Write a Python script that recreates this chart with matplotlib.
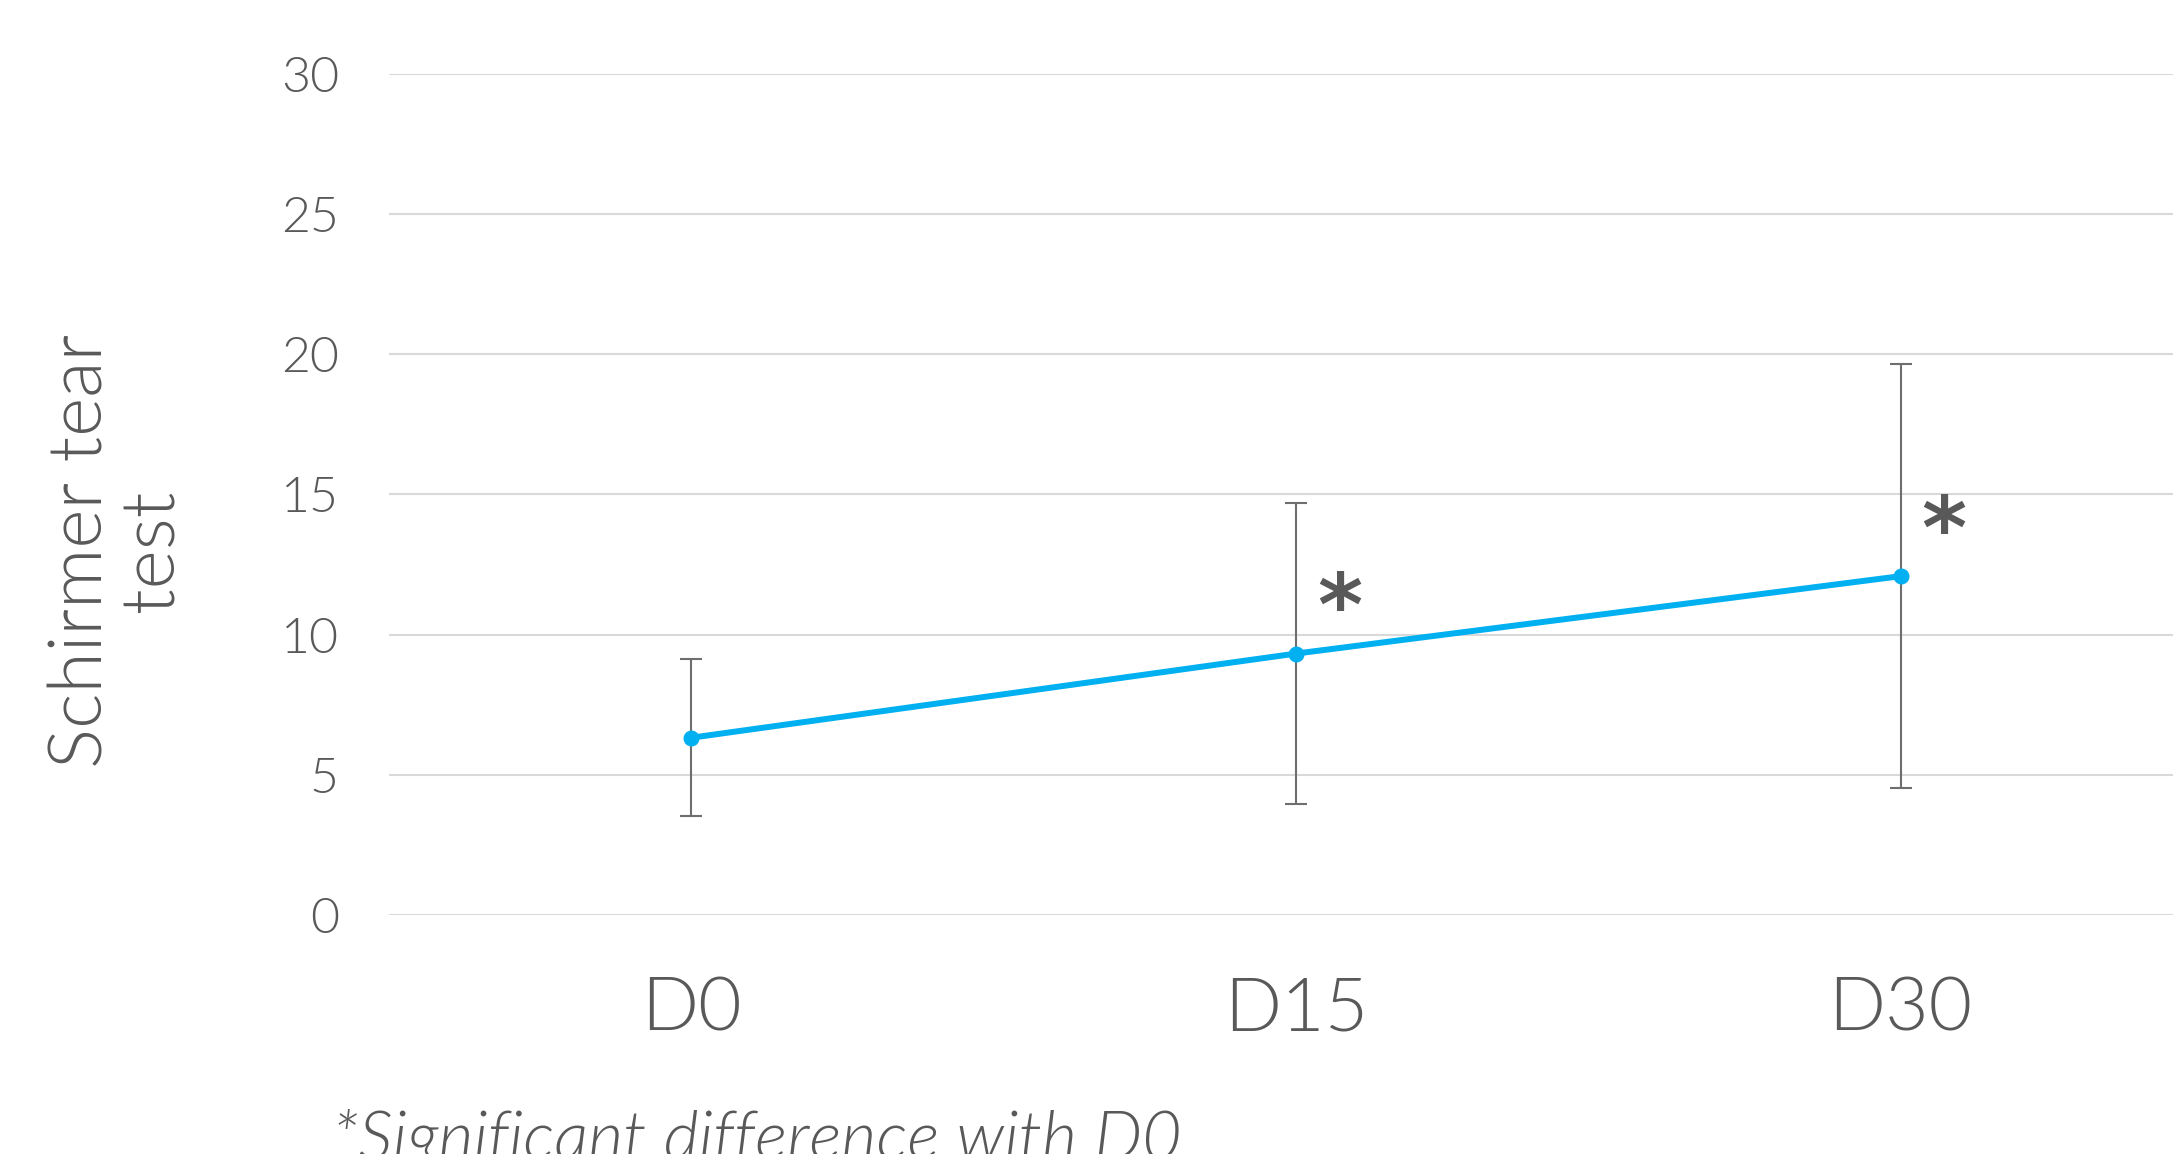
import numpy as np
import matplotlib.pyplot as plt

days = ['D0', 'D15', 'D30']
schirmer_mean = [6.32, 9.32, 12.08]
schirmer_sd = [2.8, 5.37, 7.55]
significant = [False, True, True]
y_ticks = [0, 5, 10, 15, 20, 25, 30]

grey = '#595959'
cyan = '#00B0F0'

fig = plt.figure(figsize=(21.73, 11.54), dpi=100)
ax = fig.add_axes([0.179, 0.2071, 0.8348, 0.7292])

x = np.arange(len(days))
ax.errorbar(x, schirmer_mean, yerr=schirmer_sd, fmt='none', ecolor='#6e6e6e',
            elinewidth=1.5, capsize=8, capthick=1.5, zorder=2)
ax.plot(x, schirmer_mean, color=cyan, lw=4.3, marker='o', ms=10.5, zorder=3)

# asterisks next to the points that differ from D0
for xi, m, s in zip(x, schirmer_mean, significant):
    if s:
        ax.text(xi + 0.072, m + 1.5, '*', ha='center', va='center',
                fontsize=62, fontweight='bold', color=grey, family='DejaVu Sans')

ax.set_xlim(-0.5, 2.5)
ax.set_ylim(0, 30)
ax.set_yticks(y_ticks)
ax.set_xticks(x)
ax.set_xticklabels(days)
ax.grid(axis='y', color='#d9d9d9', lw=1.5)
ax.set_axisbelow(True)
for sp in ax.spines.values():
    sp.set_visible(False)
ax.tick_params(axis='both', length=0, colors=grey)
ax.tick_params(axis='y', pad=36, labelsize=36)
ax.tick_params(axis='x', pad=44, labelsize=54)
for lab in ax.get_yticklabels() + ax.get_xticklabels():
    lab.set_family('Lato')
    lab.set_fontweight(300)

fig.text(0.054, 0.523, 'Schirmer tear\ntest', rotation=90, ha='center', va='center',
         multialignment='center', fontsize=54, color=grey, family='Lato',
         fontweight=300, linespacing=1.05)

fig.text(0.153, -0.004, '*Significant difference with D0', ha='left', va='baseline',
         fontsize=49, style='italic', color=grey, family='Lato', fontweight=300)

fig.savefig('out.png', dpi=100)
